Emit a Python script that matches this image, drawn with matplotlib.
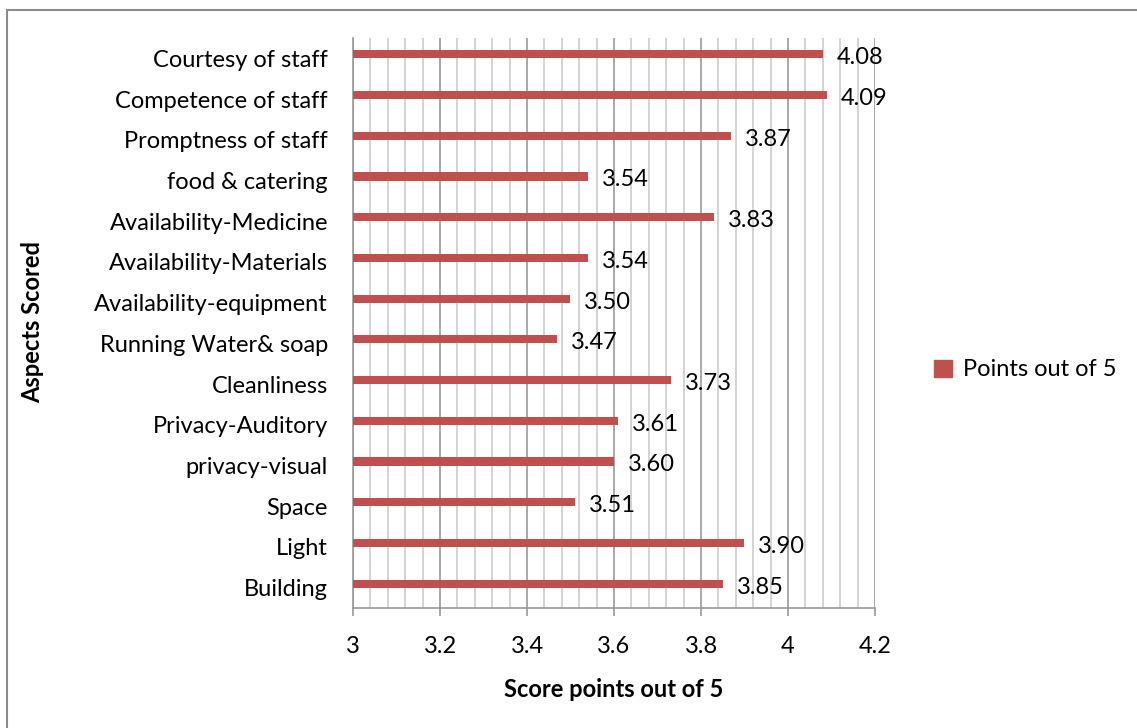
import matplotlib.pyplot as plt
from matplotlib.patches import Rectangle, Patch
from matplotlib.ticker import MultipleLocator

# Aspects scored (top to bottom as displayed)
aspects = [
    "Courtesy of staff", "Competence of staff", "Promptness of staff",
    "food & catering", "Availability-Medicine", "Availability-Materials",
    "Availability-equipment", "Running Water& soap", "Cleanliness",
    "Privacy-Auditory", "privacy-visual", "Space", "Light", "Building",
]
scores = [4.08, 4.09, 3.87, 3.54, 3.83, 3.54, 3.50, 3.47, 3.73, 3.61,
          3.60, 3.51, 3.90, 3.85]
series_name = "Points out of 5"
x_ticks = [3, 3.2, 3.4, 3.6, 3.8, 4, 4.2]
x_tick_labels = ["3", "3.2", "3.4", "3.6", "3.8", "4", "4.2"]

plt.rcParams['font.family'] = ['Lato', 'DejaVu Sans']
FS = 17

W, H = 1137, 728
fig = plt.figure(figsize=(W / 100, H / 100), dpi=100)
ax = fig.add_axes([353 / W, 1 - 608 / H, (875 - 353) / W, (608 - 38) / H])

bar_color = "#C0504D"
n = len(aspects)
ypos = list(range(n - 1, -1, -1))
# the series sits in the upper part of each category slot
bar_shift = 0.1
bar_y = [y + bar_shift for y in ypos]
ax.barh(bar_y, [s - 3 for s in scores], left=3, height=0.2, color=bar_color,
        zorder=3)

for y, s in zip(bar_y, scores):
    ax.annotate(f"{s:.2f}", xy=(s, y), xytext=(10, -2.5),
                textcoords="offset points", ha="left", va="center",
                fontsize=FS, color="black", zorder=4)

ax.set_xlim(3, 4.2)
ax.set_ylim(-0.5, n - 0.5)
ax.set_xticks(x_ticks)
ax.set_xticklabels(x_tick_labels, fontsize=FS)
ax.xaxis.set_minor_locator(MultipleLocator(0.04))
ax.set_yticks(ypos)
ax.set_yticklabels(aspects, fontsize=FS)

ax.grid(axis="x", which="major", color="#999999", linewidth=1.2, zorder=1)
ax.grid(axis="x", which="minor", color="#CCCCCC", linewidth=1.2, zorder=1)
ax.set_axisbelow(True)

ax.tick_params(axis="x", which="major", length=6, width=1.2, color="#999999",
               pad=14)
ax.tick_params(axis="x", which="minor", length=0)
ax.tick_params(axis="y", length=0, pad=18)

for side in ("top", "right"):
    ax.spines[side].set_visible(False)
for side in ("left", "bottom"):
    ax.spines[side].set_color("#999999")
    ax.spines[side].set_linewidth(1.2)

ax.set_xlabel("Score points out of 5", fontsize=FS, fontweight="bold",
              labelpad=15)
fig.text(33 / W, 1 - 322 / H, "Aspects Scored", rotation=90, ha="center",
         va="center", fontsize=FS, fontweight="bold")

fig.legend(handles=[Patch(color=bar_color, label=series_name)],
           loc="center left", bbox_to_anchor=(913 / W, 1 - 370 / H),
           frameon=False, fontsize=FS, handlelength=0.75, handleheight=0.75,
           handletextpad=0.45)

# outer chart frame (top and left edges visible)
fig.patches.append(Rectangle((7 / W, -0.1), 1.2, 1 - 10 / H + 0.1,
                             transform=fig.transFigure, fill=False,
                             edgecolor="#8C8C8C", linewidth=1.5))

fig.savefig("out.png", dpi=100, facecolor="white")
